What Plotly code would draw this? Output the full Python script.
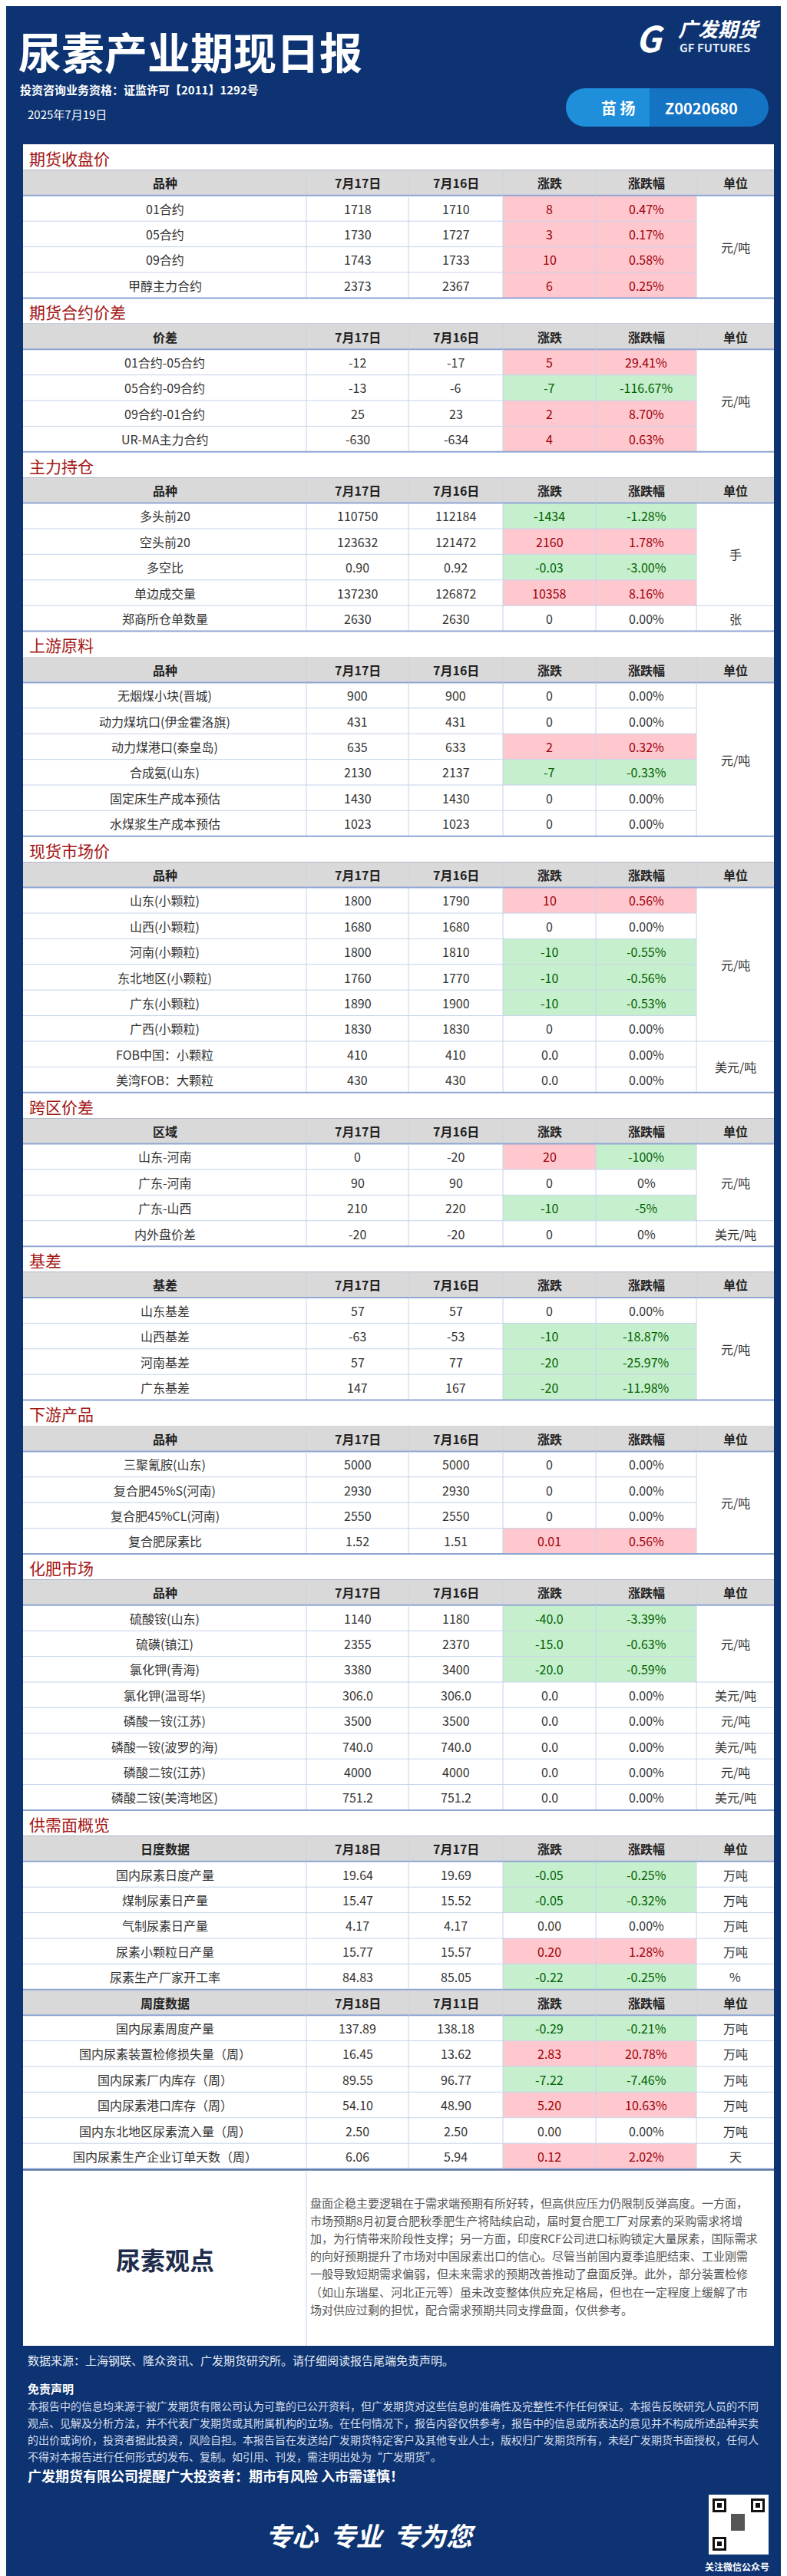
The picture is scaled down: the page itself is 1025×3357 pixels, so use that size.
import plotly.graph_objects as go

FONT = "Noto Sans CJK SC"
NAVY = "#0d3372"

# ---------------- data ----------------
s1_title = "期货收盘价"
s1_head = ["品种", "7月17日", "7月16日", "涨跌", "涨跌幅", "单位"]
s1_names = ["01合约", "05合约", "09合约", "甲醇主力合约"]
s1_d1 = ["1718", "1730", "1743", "2373"]
s1_d2 = ["1710", "1727", "1733", "2367"]
s1_chg = ["8", "3", "10", "6"]
s1_pct = ["0.47%", "0.17%", "0.58%", "0.25%"]
s1_units = [("元/吨", 4)]

s2_title = "期货合约价差"
s2_head = ["价差", "7月17日", "7月16日", "涨跌", "涨跌幅", "单位"]
s2_names = ["01合约-05合约", "05合约-09合约", "09合约-01合约", "UR-MA主力合约"]
s2_d1 = ["-12", "-13", "25", "-630"]
s2_d2 = ["-17", "-6", "23", "-634"]
s2_chg = ["5", "-7", "2", "4"]
s2_pct = ["29.41%", "-116.67%", "8.70%", "0.63%"]
s2_units = [("元/吨", 4)]

s3_title = "主力持仓"
s3_head = ["品种", "7月17日", "7月16日", "涨跌", "涨跌幅", "单位"]
s3_names = ["多头前20", "空头前20", "多空比", "单边成交量", "郑商所仓单数量"]
s3_d1 = ["110750", "123632", "0.90", "137230", "2630"]
s3_d2 = ["112184", "121472", "0.92", "126872", "2630"]
s3_chg = ["-1434", "2160", "-0.03", "10358", "0"]
s3_pct = ["-1.28%", "1.78%", "-3.00%", "8.16%", "0.00%"]
s3_units = [("手", 4), ("张", 1)]

s4_title = "上游原料"
s4_head = ["品种", "7月17日", "7月16日", "涨跌", "涨跌幅", "单位"]
s4_names = ["无烟煤小块(晋城)", "动力煤坑口(伊金霍洛旗)", "动力煤港口(秦皇岛)", "合成氨(山东)",
            "固定床生产成本预估", "水煤浆生产成本预估"]
s4_d1 = ["900", "431", "635", "2130", "1430", "1023"]
s4_d2 = ["900", "431", "633", "2137", "1430", "1023"]
s4_chg = ["0", "0", "2", "-7", "0", "0"]
s4_pct = ["0.00%", "0.00%", "0.32%", "-0.33%", "0.00%", "0.00%"]
s4_units = [("元/吨", 6)]

s5_title = "现货市场价"
s5_head = ["品种", "7月17日", "7月16日", "涨跌", "涨跌幅", "单位"]
s5_names = ["山东(小颗粒)", "山西(小颗粒)", "河南(小颗粒)", "东北地区(小颗粒)", "广东(小颗粒)",
            "广西(小颗粒)", "FOB中国：小颗粒", "美湾FOB：大颗粒"]
s5_d1 = ["1800", "1680", "1800", "1760", "1890", "1830", "410", "430"]
s5_d2 = ["1790", "1680", "1810", "1770", "1900", "1830", "410", "430"]
s5_chg = ["10", "0", "-10", "-10", "-10", "0", "0.0", "0.0"]
s5_pct = ["0.56%", "0.00%", "-0.55%", "-0.56%", "-0.53%", "0.00%", "0.00%", "0.00%"]
s5_units = [("元/吨", 6), ("美元/吨", 2)]

s6_title = "跨区价差"
s6_head = ["区域", "7月17日", "7月16日", "涨跌", "涨跌幅", "单位"]
s6_names = ["山东-河南", "广东-河南", "广东-山西", "内外盘价差"]
s6_d1 = ["0", "90", "210", "-20"]
s6_d2 = ["-20", "90", "220", "-20"]
s6_chg = ["20", "0", "-10", "0"]
s6_pct = ["-100%", "0%", "-5%", "0%"]
s6_units = [("元/吨", 3), ("美元/吨", 1)]

s7_title = "基差"
s7_head = ["基差", "7月17日", "7月16日", "涨跌", "涨跌幅", "单位"]
s7_names = ["山东基差", "山西基差", "河南基差", "广东基差"]
s7_d1 = ["57", "-63", "57", "147"]
s7_d2 = ["57", "-53", "77", "167"]
s7_chg = ["0", "-10", "-20", "-20"]
s7_pct = ["0.00%", "-18.87%", "-25.97%", "-11.98%"]
s7_units = [("元/吨", 4)]

s8_title = "下游产品"
s8_head = ["品种", "7月17日", "7月16日", "涨跌", "涨跌幅", "单位"]
s8_names = ["三聚氰胺(山东)", "复合肥45%S(河南)", "复合肥45%CL(河南)", "复合肥尿素比"]
s8_d1 = ["5000", "2930", "2550", "1.52"]
s8_d2 = ["5000", "2930", "2550", "1.51"]
s8_chg = ["0", "0", "0", "0.01"]
s8_pct = ["0.00%", "0.00%", "0.00%", "0.56%"]
s8_units = [("元/吨", 4)]

s9_title = "化肥市场"
s9_head = ["品种", "7月17日", "7月16日", "涨跌", "涨跌幅", "单位"]
s9_names = ["硫酸铵(山东)", "硫磺(镇江)", "氯化钾(青海)", "氯化钾(温哥华)", "磷酸一铵(江苏)",
            "磷酸一铵(波罗的海)", "磷酸二铵(江苏)", "磷酸二铵(美湾地区)"]
s9_d1 = ["1140", "2355", "3380", "306.0", "3500", "740.0", "4000", "751.2"]
s9_d2 = ["1180", "2370", "3400", "306.0", "3500", "740.0", "4000", "751.2"]
s9_chg = ["-40.0", "-15.0", "-20.0", "0.0", "0.0", "0.0", "0.0", "0.0"]
s9_pct = ["-3.39%", "-0.63%", "-0.59%", "0.00%", "0.00%", "0.00%", "0.00%", "0.00%"]
s9_units = [("元/吨", 3), ("美元/吨", 1), ("元/吨", 1), ("美元/吨", 1), ("元/吨", 1), ("美元/吨", 1)]

s10_title = "供需面概览"
s10_head = ["日度数据", "7月18日", "7月17日", "涨跌", "涨跌幅", "单位"]
s10_names = ["国内尿素日度产量", "煤制尿素日产量", "气制尿素日产量", "尿素小颗粒日产量", "尿素生产厂家开工率"]
s10_d1 = ["19.64", "15.47", "4.17", "15.77", "84.83"]
s10_d2 = ["19.69", "15.52", "4.17", "15.57", "85.05"]
s10_chg = ["-0.05", "-0.05", "0.00", "0.20", "-0.22"]
s10_pct = ["-0.25%", "-0.32%", "0.00%", "1.28%", "-0.25%"]
s10_units = [("万吨", 1), ("万吨", 1), ("万吨", 1), ("万吨", 1), ("%", 1)]

s11_title = None
s11_head = ["周度数据", "7月18日", "7月11日", "涨跌", "涨跌幅", "单位"]
s11_names = ["国内尿素周度产量", "国内尿素装置检修损失量（周）", "国内尿素厂内库存（周）",
             "国内尿素港口库存（周）", "国内东北地区尿素流入量（周）", "国内尿素生产企业订单天数（周）"]
s11_d1 = ["137.89", "16.45", "89.55", "54.10", "2.50", "6.06"]
s11_d2 = ["138.18", "13.62", "96.77", "48.90", "2.50", "5.94"]
s11_chg = ["-0.29", "2.83", "-7.22", "5.20", "0.00", "0.12"]
s11_pct = ["-0.21%", "20.78%", "-7.46%", "10.63%", "0.00%", "2.02%"]
s11_units = [("万吨", 1), ("万吨", 1), ("万吨", 1), ("万吨", 1), ("万吨", 1), ("天", 1)]

opinion_lines = [
    "盘面企稳主要逻辑在于需求端预期有所好转，但高供应压力仍限制反弹高度。一方面，",
    "市场预期8月初复合肥秋季肥生产将陆续启动，届时复合肥工厂对尿素的采购需求将增",
    "加，为行情带来阶段性支撑；另一方面，印度RCF公司进口标购锁定大量尿素，国际需求",
    "的向好预期提升了市场对中国尿素出口的信心。尽管当前国内夏季追肥结束、工业刚需",
    "一般导致短期需求偏弱，但未来需求的预期改善推动了盘面反弹。此外，部分装置检修",
    "（如山东瑞星、河北正元等）虽未改变整体供应充足格局，但也在一定程度上缓解了市",
    "场对供应过剩的担忧，配合需求预期共同支撑盘面，仅供参考。",
]
disclaimer_lines = [
    "本报告中的信息均来源于被广发期货有限公司认为可靠的已公开资料，但广发期货对这些信息的准确性及完整性不作任何保证。本报告反映研究人员的不同",
    "观点、见解及分析方法，并不代表广发期货或其附属机构的立场。在任何情况下，报告内容仅供参考，报告中的信息或所表达的意见并不构成所述品种买卖",
    "的出价或询价，投资者据此投资，风险自担。本报告旨在发送给广发期货特定客户及其他专业人士，版权归广发期货所有，未经广发期货书面授权，任何人",
    "不得对本报告进行任何形式的发布、复制。如引用、刊发，需注明出处为“广发期货”。",
]

tables = [
    (s1_title, s1_head, s1_names, s1_d1, s1_d2, s1_chg, s1_pct, s1_units),
    (s2_title, s2_head, s2_names, s2_d1, s2_d2, s2_chg, s2_pct, s2_units),
    (s3_title, s3_head, s3_names, s3_d1, s3_d2, s3_chg, s3_pct, s3_units),
    (s4_title, s4_head, s4_names, s4_d1, s4_d2, s4_chg, s4_pct, s4_units),
    (s5_title, s5_head, s5_names, s5_d1, s5_d2, s5_chg, s5_pct, s5_units),
    (s6_title, s6_head, s6_names, s6_d1, s6_d2, s6_chg, s6_pct, s6_units),
    (s7_title, s7_head, s7_names, s7_d1, s7_d2, s7_chg, s7_pct, s7_units),
    (s8_title, s8_head, s8_names, s8_d1, s8_d2, s8_chg, s8_pct, s8_units),
    (s9_title, s9_head, s9_names, s9_d1, s9_d2, s9_chg, s9_pct, s9_units),
    (s10_title, s10_head, s10_names, s10_d1, s10_d2, s10_chg, s10_pct, s10_units),
    (s11_title, s11_head, s11_names, s11_d1, s11_d2, s11_chg, s11_pct, s11_units),
]

# ---------------- layout constants ----------------
W, H = 1025, 3357
COLS = [22, 391, 524, 647, 768, 899, 1000]
RH = 33.4
TOP = 180

shapes = []
ann = []


def rect(x0, y0, x1, y1, fill, line=None, lw=0, layer="below"):
    shapes.append(dict(type="rect", x0=x0, y0=y0, x1=x1, y1=y1, fillcolor=fill,
                       line=dict(color=line or fill, width=lw), layer=layer, xref="x", yref="y"))


def hline(x0, x1, y, color, w=1):
    shapes.append(dict(type="line", x0=x0, x1=x1, y0=y, y1=y, line=dict(color=color, width=w),
                       xref="x", yref="y", layer="above"))


def vline(x, y0, y1, color, w=1):
    shapes.append(dict(type="line", x0=x, x1=x, y0=y0, y1=y1, line=dict(color=color, width=w),
                       xref="x", yref="y", layer="above"))


def text(x, y, s, size, color, bold=False, xanchor="center", family=FONT):
    if bold:
        s = "<b>" + s + "</b>"
    ann.append(dict(x=x, y=y, text=s, showarrow=False, xref="x", yref="y", xanchor=xanchor,
                    yanchor="middle", font=dict(size=size, color=color, family=family)))


def sign(s):
    v = float(s.replace("%", ""))
    return 1 if v > 0 else (-1 if v < 0 else 0)


# background
rect(0, 0, W, H, NAVY)

# header area
text(14, 57, "尿素产业期现日报", 56, "white", bold=True, xanchor="left")
text(16, 108, "投资咨询业务资格：证监许可【2011】1292号", 15, "white", bold=True, xanchor="left")
text(26, 140, "2025年7月19日", 15, "white", xanchor="left")
# logo
text(873, 28, "<i>广发期货</i>", 26, "white", bold=True, xanchor="left")
text(875, 53, "GF FUTURES", 15, "#dfe8f5", bold=True, xanchor="left")
text(838, 40, "<i>G</i>", 46, "white", bold=True)
# pill
shapes.append(dict(type="circle", x0=729, x1=779, y0=107, y1=157, fillcolor="#1f8fdb",
                   line=dict(width=0), xref="x", yref="y", layer="below"))
rect(754, 107, 838, 157, "#1f8fdb")
shapes.append(dict(type="circle", x0=943, x1=993, y0=107, y1=157, fillcolor="#1473c2",
                   line=dict(width=0), xref="x", yref="y", layer="below"))
rect(838, 107, 968, 157, "#1473c2")
text(797, 132, "苗 扬", 20, "white", bold=True)
text(905, 132, "Z0020680", 20, "white", bold=True)

# tables
RED_F, RED_T = "#ffc7ce", "#9c0006"
GRN_F, GRN_T = "#c6efce", "#006100"
GRID = "#c5d3ea"
TXT = "#333333"
y = TOP
for title, head, names, d1, d2, chg, pct, units in tables:
    if title:
        rect(COLS[0], y, COLS[-1], y + RH, "white")
        text(28, y + RH / 2 + 1, title, 21, "#a31515", xanchor="left")
        y += RH
    # header row
    rect(COLS[0], y, COLS[-1], y + RH, "#d9d9d9")
    for i, h in enumerate(head):
        text((COLS[i] + COLS[i + 1]) / 2, y + RH / 2, h, 16, "#222222", bold=True)
    for i in range(1, 6):
        vline(COLS[i], y, y + RH, "#c9d3e3")
    y += RH
    hline(COLS[0], COLS[-1], y, "#8fa6d3", 2)
    start = y
    n = len(names)
    rect(COLS[0], start, COLS[-1], start + n * RH, "white")
    for r in range(n):
        yc = start + r * RH + RH / 2
        vals = [names[r], d1[r], d2[r], chg[r], pct[r]]
        for c, v in enumerate(vals):
            color = TXT
            if c >= 3:
                sg = sign(v)
                if sg != 0:
                    rect(COLS[c], start + r * RH, COLS[c + 1], start + (r + 1) * RH,
                         RED_F if sg > 0 else GRN_F)
                    color = RED_T if sg > 0 else GRN_T
            text((COLS[c] + COLS[c + 1]) / 2, yc, v, 16, color)
        if r < n - 1:
            hline(COLS[0], COLS[5], start + (r + 1) * RH, GRID)
    # units (merged)
    k = 0
    for u, span in units:
        y0u = start + k * RH
        y1u = y0u + span * RH
        text((COLS[5] + COLS[6]) / 2, (y0u + y1u) / 2, u, 16, TXT)
        k += span
        if k < n:
            hline(COLS[5], COLS[6], y1u, GRID)
    for i in range(1, 6):
        vline(COLS[i], start, start + n * RH, GRID)
    y = start + n * RH
    hline(COLS[0], COLS[-1], y, "#8fa6d3", 2)

# opinion box
op_top, op_bot = y + 2, 3049
rect(COLS[0], op_top, COLS[-1], op_bot, "white")
vline(COLS[1], op_top, op_bot, GRID)
text((COLS[0] + COLS[1]) / 2, 2936, "尿素观点", 32, "#1f2d4d", bold=True)
for i, line in enumerate(opinion_lines):
    text(394, 2862 + i * 23.2, line, 15, "#555555", xanchor="left")

# footer
text(26, 3067, "数据来源：上海钢联、隆众资讯、广发期货研究所。请仔细阅读报告尾端免责声明。", 15, "#e6ecf5", xanchor="left")
text(26, 3104, "免责声明", 15, "white", bold=True, xanchor="left")
for i, line in enumerate(disclaimer_lines):
    text(26, 3127 + i * 22, line, 14, "#d5deec", xanchor="left")
text(26, 3218, "广发期货有限公司提醒广大投资者：期市有风险 入市需谨慎！", 18, "white", bold=True, xanchor="left")
text(475, 3295, "<i>专心  专业  专为您</i>", 34, "white", bold=True)
# QR placeholder
rect(915, 3243, 993, 3321, "white")
for fx, fy in [(920, 3248), (970, 3248), (920, 3298)]:
    rect(fx, fy, fx + 18, fy + 18, "#111111")
    rect(fx + 3, fy + 3, fx + 15, fy + 15, "white")
    rect(fx + 6, fy + 6, fx + 12, fy + 12, "#111111")
rect(944, 3268, 962, 3290, "#555555")
text(952, 3336, "关注微信公众号", 12, "white", bold=True)

fig = go.Figure()
fig.add_trace(go.Scatter(x=[0], y=[0], mode="markers", marker=dict(opacity=0), hoverinfo="skip",
                         showlegend=False))
fig.update_layout(
    width=W, height=H, margin=dict(l=0, r=0, t=0, b=0),
    paper_bgcolor=NAVY, plot_bgcolor=NAVY,
    xaxis=dict(range=[0, W], visible=False, fixedrange=True),
    yaxis=dict(range=[H, 0], visible=False, fixedrange=True),
    shapes=shapes, annotations=ann, showlegend=False,
)
fig.write_html("out.html")
